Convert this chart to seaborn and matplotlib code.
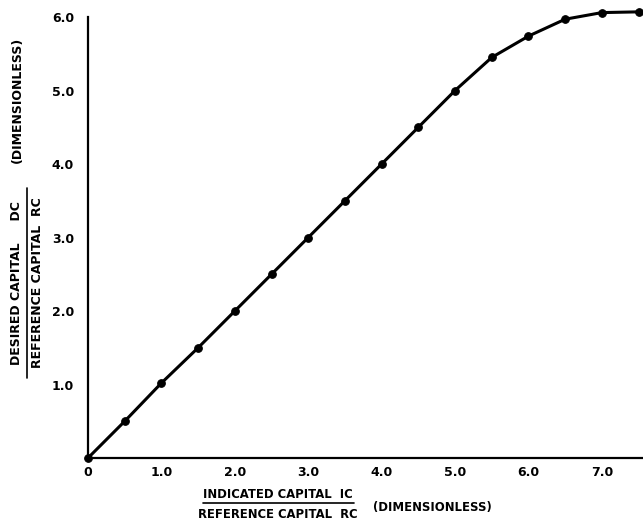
import matplotlib
matplotlib.use("Agg")
import matplotlib.pyplot as plt
import seaborn as sns
import pandas as pd

indicated = [0.0, 0.5, 1.0, 1.5, 2.0, 2.5, 3.0, 3.5, 4.0, 4.5, 5.0, 5.5, 6.0, 6.5, 7.0, 7.5]
desired = [0.0, 0.5, 1.02, 1.5, 2.0, 2.5, 3.0, 3.5, 4.0, 4.5, 5.0, 5.45, 5.74, 5.97, 6.06, 6.07]
x_ticks = [0, 1, 2, 3, 4, 5, 6, 7]
x_labels = ["0", "1.0", "2.0", "3.0", "4.0", "5.0", "6.0", "7.0"]
y_ticks = [1, 2, 3, 4, 5, 6]
y_labels = ["1.0", "2.0", "3.0", "4.0", "5.0", "6.0"]

sns.set_style("white")
plt.rcParams['font.family'] = ['DejaVu Sans']

df = pd.DataFrame({"ic": indicated, "dc": desired})

fig = plt.figure(figsize=(6.43, 5.29), dpi=100)
ax = fig.add_axes([88/643, 71/529, (643-88)/643, (458-17)/529])
sns.lineplot(data=df, x="ic", y="dc", ax=ax, color="black", linewidth=2.2,
             marker="o", markersize=5.5, markeredgecolor="black", clip_on=False)

ax.set_xlim(0, 7.56)
ax.set_ylim(0, 6.0)
ax.set_xticks(x_ticks)
ax.set_xticklabels(x_labels)
ax.set_yticks(y_ticks)
ax.set_yticklabels(y_labels)
ax.set_xticks([v + 0.5 for v in x_ticks], minor=True)
ax.set_yticks([v - 0.5 for v in y_ticks], minor=True)
ax.tick_params(axis="both", which="both", direction="in", length=4, width=1.2,
               colors="black", labelsize=9)
ax.tick_params(axis="x", which="major", pad=6)
ax.tick_params(axis="y", which="major", pad=10)
for lbl in ax.get_xticklabels() + ax.get_yticklabels():
    lbl.set_fontweight("bold")
for s in ["top", "right"]:
    ax.spines[s].set_visible(False)
for s in ["left", "bottom"]:
    ax.spines[s].set_color("black")
    ax.spines[s].set_linewidth(1.6)
ax.set_xlabel("")
ax.set_ylabel("")

fkw = dict(fontsize=9, fontweight="bold", color="black")
xkw = dict(fontsize=8.4, fontweight="bold", color="black")
# x-axis label (fraction)
fig.text(278/643, 1 - 494/529, "INDICATED CAPITAL  IC", ha="center", va="center", **xkw)
fig.text(278/643, 1 - 514/529, "REFERENCE CAPITAL  RC", ha="center", va="center", **xkw)
fig.add_artist(plt.Line2D([203/643, 354/643], [1 - 503/529, 1 - 503/529], color="black", lw=1.2))
fig.text(432/643, 1 - 507/529, "(DIMENSIONLESS)", ha="center", va="center", **xkw)

# y-axis label (fraction)
fig.text(17/643, 1 - 283/529, "DESIRED CAPITAL     DC", ha="center", va="center", rotation=90, **fkw)
fig.text(38/643, 1 - 283/529, "REFERENCE CAPITAL  RC", ha="center", va="center", rotation=90, **fkw)
fig.add_artist(plt.Line2D([27/643, 27/643], [1 - 378/529, 1 - 188/529], color="black", lw=1.2))
fig.text(17/643, 1 - 100/529, "(DIMENSIONLESS)", ha="center", va="center", rotation=90, **fkw)

fig.savefig("out.png", dpi=100)
